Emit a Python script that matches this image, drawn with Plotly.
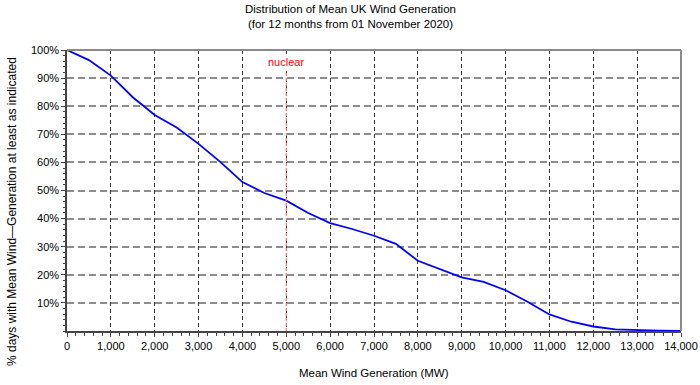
import plotly.graph_objects as go

generation_mw = [0, 500, 1000, 1500, 2000, 2500, 3000, 3500, 4000, 4500, 5000,
                 5500, 6000, 6500, 7000, 7500, 8000, 8500, 9000, 9500, 10000,
                 10500, 11000, 11500, 12000, 12500, 13000, 13500, 14000]
pct_days = [100, 96.4, 90.9, 83.2, 76.9, 72.4, 66.6, 60.1, 53.0, 49.1, 46.4,
            42.0, 38.4, 36.3, 33.9, 31.0, 25.0, 22.1, 19.1, 17.5, 14.5,
            10.4, 5.9, 3.3, 1.6, 0.6, 0.3, 0.1, 0.0]
nuclear_mw = 5000
y_tick_vals = [10, 20, 30, 40, 50, 60, 70, 80, 90, 100]
y_tick_text = [f"{v}%" for v in y_tick_vals]

FONT = "Liberation Sans, Arial, sans-serif"

fig = go.Figure()
fig.add_trace(go.Scatter(x=generation_mw, y=pct_days, mode="lines",
                         line=dict(color="#0000ff", width=1.8),
                         hoverinfo="skip", showlegend=False))

# nuclear marker line
fig.add_shape(type="line", xref="x", yref="y", x0=nuclear_mw, x1=nuclear_mw,
              y0=0, y1=91.8, line=dict(color="#ff8080", width=1.3, dash="3px,2px"))
fig.add_annotation(x=nuclear_mw, y=95.6, xref="x", yref="y", text="nuclear",
                   showarrow=False, bgcolor="#ffffff",
                   font=dict(color="#ff0000", size=11, family=FONT))

# top/right border
fig.add_shape(type="line", xref="paper", yref="paper", x0=0, x1=1, y0=1, y1=1,
              line=dict(color="#8a8a8a", width=2))
fig.add_shape(type="line", xref="paper", yref="paper", x0=1, x1=1, y0=0, y1=1,
              line=dict(color="#8a8a8a", width=2))

fig.add_annotation(text="Distribution of Mean UK Wind Generation<br>(for 12 months from 01 November 2020)",
                   xref="paper", yref="paper", x=(350 - 67) / 614, y=1 + 49 / 281,
                   xanchor="center", yanchor="top", showarrow=False,
                   font=dict(size=11.5, family=FONT, color="#000"))
fig.add_annotation(text="% days with Mean Wind\u2014Generation at least as indicated",
                   xref="paper", yref="paper", x=(12 - 67) / 614, y=(331 - 212) / 281,
                   xanchor="center", yanchor="middle", textangle=-90, showarrow=False,
                   font=dict(size=12, family=FONT, color="#000"))
fig.add_annotation(text="Mean Wind Generation (MW)",
                   xref="paper", yref="paper", x=0.5, y=(331 - 373) / 281,
                   xanchor="center", yanchor="middle", showarrow=False,
                   font=dict(size=11.5, family=FONT, color="#000"))

fig.update_xaxes(range=[0, 14000], dtick=1000, tick0=0, tickformat=",d", automargin=False,
                 showgrid=True, gridcolor="#333333", gridwidth=1, griddash="4px,3px",
                 showline=True, linecolor="#444444", linewidth=1.5,
                 ticks="outside", ticklen=4, tickcolor="#444444",
                 minor=dict(dtick=200, tick0=0, ticks="outside", ticklen=3,
                            tickcolor="#444444", showgrid=False),
                 zeroline=False, tickfont=dict(size=11, family=FONT, color="#000"))
fig.update_yaxes(range=[0, 100], tickmode="array", tickvals=y_tick_vals, ticktext=y_tick_text,
                 automargin=False,
                 showgrid=True, gridcolor="#8c8c8c", gridwidth=1.6, griddash="7px,4px",
                 showline=True, linecolor="#444444", linewidth=1.5,
                 ticks="outside", ticklen=4, tickcolor="#444444",
                 minor=dict(dtick=2, tick0=0, ticks="outside", ticklen=2,
                            tickcolor="#444444", showgrid=False),
                 zeroline=False, tickfont=dict(size=11, family=FONT, color="#000"))

fig.update_layout(width=700, height=385, margin=dict(l=67, r=19, t=50, b=54, autoexpand=False),
                  plot_bgcolor="#ffffff", paper_bgcolor="#ffffff",
                  font=dict(family=FONT))
fig.write_html("out.html", config={"displayModeBar": False},
               post_script="document.body.style.margin='0';")
